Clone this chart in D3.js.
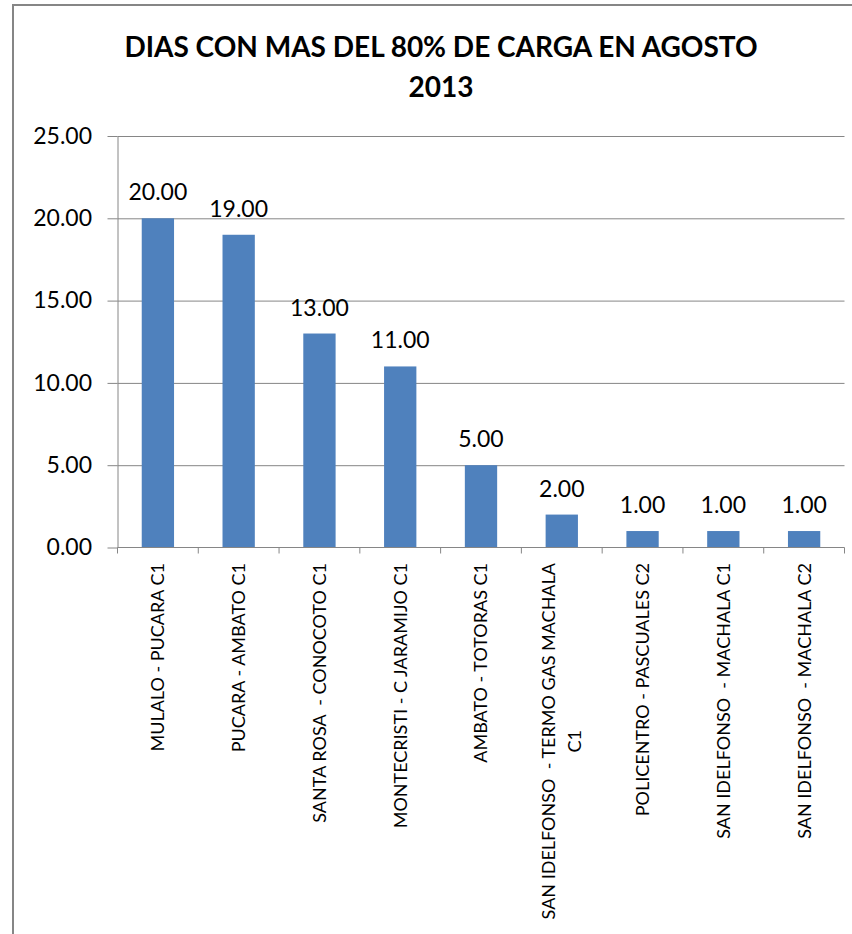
<!DOCTYPE html>
<html>
<head>
<meta charset="utf-8">
<script src="https://cdn.jsdelivr.net/npm/d3@7"></script>
<style>
  body { margin: 0; background: #fff; }
  text { font-family: Lato, "Open Sans", sans-serif; fill: #000; }
</style>
</head>
<body>
<div id="chart"></div>
<script>
// Chart data
var categories = [
    "MULALO - PUCARA C1",
    "PUCARA - AMBATO C1",
    "SANTA ROSA  - CONOCOTO C1",
    "MONTECRISTI - C JARAMIJO C1",
    "AMBATO - TOTORAS C1",
    "SAN IDELFONSO  - TERMO GAS MACHALA C1",
    "POLICENTRO - PASCUALES C2",
    "SAN IDELFONSO  - MACHALA C1",
    "SAN IDELFONSO  - MACHALA C2"
];
var values = [20, 19, 13, 11, 5, 2, 1, 1, 1];
var yTicks = [0, 5, 10, 15, 20, 25];
var titleLines = ["DIAS CON MAS DEL 80% DE CARGA EN AGOSTO", "2013"];

// svg area and margins
var svgWidth = 852;
var svgHeight = 934;
var chartMargin = { top: 136, left: 117.5 };
var chartWidth = 727;
var chartHeight = 411.5;

var svg = d3.select("#chart")
    .append("svg")
    .attr("width", svgWidth)
    .attr("height", svgHeight);

// outer chart border (cropped on right and bottom)
svg.append("rect")
    .attr("x", 13)
    .attr("y", 5)
    .attr("width", 900)
    .attr("height", 1000)
    .attr("fill", "#fff")
    .attr("stroke", "#868686")
    .attr("stroke-width", 2);

// title
svg.selectAll("text.title")
    .data(titleLines)
    .enter()
    .append("text")
    .attr("class", "title")
    .attr("x", 441)
    .attr("y", (d, i) => 57 + i * 40)
    .attr("text-anchor", "middle")
    .attr("font-size", "28px")
    .attr("font-weight", "bold")
    .text(d => d);

var chartGroup = svg.append("g")
    .attr("transform", `translate(${chartMargin.left}, ${chartMargin.top})`);

var xScale = d3.scaleBand()
    .domain(categories)
    .range([0, chartWidth])
    .paddingInner(0.6)
    .paddingOuter(0.3);

var yScale = d3.scaleLinear()
    .domain([0, 25])
    .range([chartHeight, 0]);

// gridlines
chartGroup.append("g")
    .attr("class", "grid")
    .call(d3.axisLeft(yScale).tickValues(yTicks.slice(1)).tickSize(-chartWidth).tickFormat(""))
    .call(g => g.select(".domain").remove())
    .call(g => g.selectAll("line").attr("stroke", "#868686"));

// y axis
var leftAxis = d3.axisLeft(yScale)
    .tickValues(yTicks)
    .tickSize(10)
    .tickSizeOuter(0)
    .tickPadding(15.5)
    .tickFormat(d3.format(".2f"));

chartGroup.append("g")
    .call(leftAxis)
    .call(g => g.select(".domain").attr("stroke", "#868686"))
    .call(g => g.selectAll(".tick line").attr("stroke", "#868686"))
    .call(g => g.selectAll(".tick text")
        .attr("font-family", "Lato, sans-serif")
        .attr("font-size", "23px")
        .attr("fill", "#000"));

// bars
chartGroup.selectAll("rect.bar")
    .data(values)
    .enter()
    .append("rect")
    .attr("class", "bar")
    .attr("x", (d, i) => xScale(categories[i]))
    .attr("y", d => yScale(d))
    .attr("width", xScale.bandwidth())
    .attr("height", d => chartHeight - yScale(d))
    .attr("fill", "#4f81bd");

// value labels
chartGroup.selectAll("text.val")
    .data(values)
    .enter()
    .append("text")
    .attr("class", "val")
    .attr("x", (d, i) => xScale(categories[i]) + xScale.bandwidth() / 2)
    .attr("y", d => yScale(d) - 18)
    .attr("text-anchor", "middle")
    .attr("font-size", "23px")
    .text(d => d3.format(".2f")(d));

// x axis line and category boundary ticks
var step = xScale.step();
var xAxisGroup = chartGroup.append("g")
    .attr("transform", `translate(0, ${chartHeight})`);

xAxisGroup.append("line")
    .attr("x1", 0)
    .attr("x2", chartWidth)
    .attr("stroke", "#868686");

xAxisGroup.selectAll("line.tick")
    .data(d3.range(categories.length + 1))
    .enter()
    .append("line")
    .attr("class", "tick")
    .attr("x1", i => i * step)
    .attr("x2", i => i * step)
    .attr("y1", 0)
    .attr("y2", 6)
    .attr("stroke", "#868686");

// rotated category labels, wrapped like excel
var maxLabel = 370;
var lineGap = 26;
var labelGroups = xAxisGroup.selectAll("g.lbl")
    .data(categories)
    .enter()
    .append("g")
    .attr("class", "lbl")
    .attr("transform", d => `translate(${xScale(d) + xScale.bandwidth() / 2}, 15.5) rotate(-90)`);

labelGroups.each(function(d) {
    var g = d3.select(this);
    var probe = g.append("text").attr("font-size", "18px").style("white-space", "pre");
    var words = d.split(" ");
    var lines = [];
    var cur = "";
    words.forEach(function(w, k) {
        var test = k === 0 ? w : cur + " " + w;
        probe.text(test);
        if (cur !== "" && probe.node().getComputedTextLength() > maxLabel) {
            lines.push(cur);
            cur = w;
        } else {
            cur = test;
        }
    });
    lines.push(cur);
    var widths = lines.map(function(l) {
        probe.text(l);
        return probe.node().getComputedTextLength();
    });
    probe.remove();
    var blockW = d3.max(widths);
    lines.forEach(function(l, k) {
        g.append("text")
            .attr("x", -blockW / 2)
            .attr("y", (k - (lines.length - 1) / 2) * lineGap)
            .attr("dy", "0.36em")
            .attr("text-anchor", "middle")
            .attr("font-size", "18px")
            .style("white-space", "pre")
            .text(l);
    });
});
</script>
</body>
</html>
